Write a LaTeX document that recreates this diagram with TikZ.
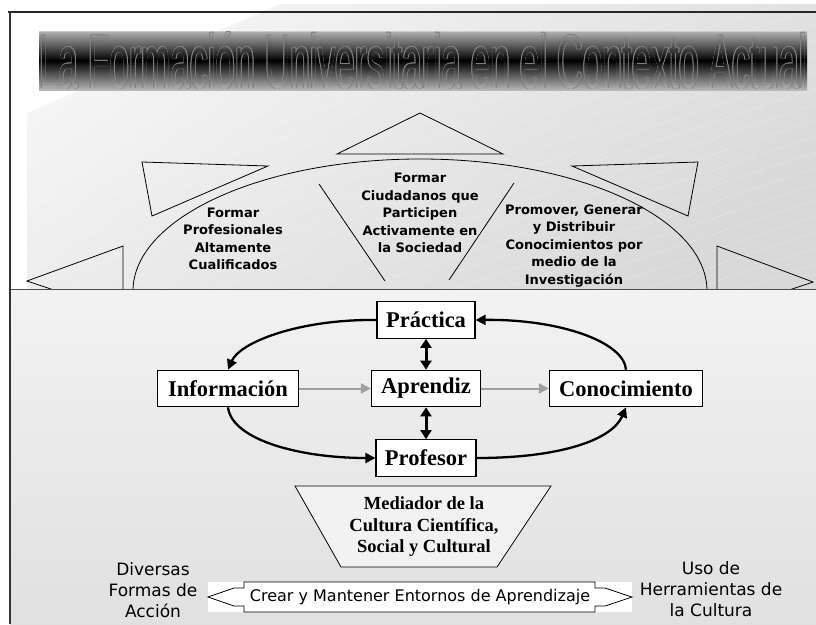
\documentclass[tikz,border=0pt]{standalone}
\usepackage{graphicx}
\usepackage{fontspec}
\setmainfont{Liberation Serif}
\newfontfamily\labfont{DejaVu Sans}
\newfontfamily\titlefont{Liberation Sans}
\usetikzlibrary{arrows.meta}
\newcommand\titletxt[1]{\resizebox{768pt}{56pt}{\titlefont\fontsize{78}{78}\selectfont\color{#1}La Formación Universitaria en el Contexto Actual}}
\definecolor{bandtop}{gray}{0.70}
\definecolor{bandbot}{gray}{0.72}
\definecolor{outlc}{gray}{0.50}
\begin{document}
\begin{tikzpicture}[x=1pt,y=-1pt,
  lab/.style={font=\labfont\bfseries\fontsize{13}{17.5}\selectfont, align=center, inner sep=0pt},
  low/.style={font=\labfont\fontsize{17}{21}\selectfont, align=center, inner sep=0pt},
  box/.style={draw=black, line width=1.2pt, fill=white, font=\bfseries\fontsize{22.5}{22.5}\selectfont, minimum height=36.5pt, inner xsep=0pt, inner ysep=0pt},
  blk/.style={line width=2.3pt, -{Triangle[length=10pt,width=10pt]}},
  gry/.style={line width=2pt, draw=gray!75, -{Triangle[length=10pt,width=10pt]}},
  dbl/.style={line width=3pt, {Triangle[length=9pt,width=11pt]}-{Triangle[length=9pt,width=11pt]}},
  tri/.style={line width=0.8pt},
  ttl/.style={anchor=base west, inner sep=0pt}
]
\useasboundingbox (0,0) rectangle (816,624);
\fill[white] (0,0) rectangle (816,624);
% upper gray region
\shade[top color=gray!8, bottom color=gray!30, shading angle=35]
  (281,4) -- (816,4) -- (816,290) -- (27,290) -- (27,113) -- cycle;
\begin{scope}
  \clip (281,4) -- (816,4) -- (816,290) -- (27,290) -- (27,113) -- cycle;
  \foreach \k in {0,...,40} {
    \draw[white, opacity=0.45, line width=0.4pt, dash pattern=on 6pt off 3pt] (0,{40+16*\k}) -- (900,{40+16*\k-300});
  }
\end{scope}
% title band
\shade[top color=bandtop, bottom color=bandbot, middle color=black] (39,31) rectangle (807,90);
\draw[gray!40, line width=1.5pt] (39,31.5) -- (807,31.5);
\foreach \dx/\dy [count=\c] in {0.7/0, -0.7/0, 0/0.7, 0/-0.7, 0.5/0.5, -0.5/0.5, 0.5/-0.5, -0.5/-0.5} {
  \node[ttl] (tc\c) at (39+\dx,88+\dy) {\titletxt{outlc}};
}
\foreach \i in {0,...,39} {
  \pgfmathsetmacro\ya{31+1.5*\i}
  \pgfmathsetmacro\yb{\ya+1.5}
  \pgfmathsetmacro\lev{max(0.70*(60.5-\ya-0.75)/29.5, 0.72*(\ya+0.75-60.5)/29.5)}
  \definecolor{stripc}{gray}{\lev}
  \begin{scope}
    \clip (30,\ya) rectangle (816,\yb);
    \node[ttl] (ts\i) at (39,88) {\titletxt{stripc}};
  \end{scope}
}
% ellipse and triangles
\draw[tri] (420,291) ellipse [x radius=287, y radius=132];
\draw[tri] (337,154) -- (420,113) -- (503,154) -- cycle;
\draw[tri] (142,162) -- (268,166) -- (152,216) -- cycle;
\draw[tri] (572,166) -- (698,162) -- (688,216) -- cycle;
\draw[tri] (123,246) -- (27,281) -- (123,313) -- cycle;
\draw[tri] (717,246) -- (813,282) -- (717,314) -- cycle;
\draw[tri] (319,184) -- (385,281);
\draw[tri] (514,183) -- (449,280);
\node[lab] (t1) at (233,239) {Formar\\Profesionales\\Altamente\\Cualificados};
\node[lab] (t2) at (420,213) {Formar\\Ciudadanos que\\Participen\\Activamente en\\la Sociedad};
\node[lab] (t3) at (574,246) {Promover, Generar\\y Distribuir\\Conocimientos por\\medio de la\\Investigación};
% lower panel
\shade[top color=gray!10, bottom color=gray!24] (10,289) rectangle (816,624);
\draw[gray!60!black, line width=1pt] (10,289) -- (816,289);
% frame
\draw[black!85, line width=2pt] (8,12) -- (816,12);
\draw[black!80, line width=2.5pt] (10,12) -- (10,624);
% boxes
\node[box, minimum width=98pt] (prac) at (426,320) {Práctica};
\node[box, minimum width=109pt] (apr) at (426,388.5) {Aprendiz};
\node[box, minimum width=141pt] (info) at (228,388.5) {Información};
\node[box, minimum width=153pt] (conoc) at (626,388.5) {Conocimiento};
\node[box, minimum width=100pt] (prof) at (426,458) {Profesor};
\draw[gry] (info.east) -- (apr.west);
\draw[gry] (apr.east) -- (conoc.west);
\draw[dbl] (prac.south) -- (apr.north);
\draw[dbl] (apr.south) -- (prof.north);
\draw[blk] (prac.west) .. controls (300,319) and (240,342) .. (info.north);
\draw[blk] (conoc.north) .. controls (624,342) and (560,319) .. (prac.east);
\draw[blk] (info.south) .. controls (232,440) and (300,458) .. (prof.west);
\draw[blk] (prof.east) .. controls (560,458) and (612,440) .. (conoc.south);
% trapezoid
\draw[fill=gray!10, line width=0.8pt] (295,486) -- (551,486) -- (497,567) -- (341,567) -- cycle;
\node[font=\bfseries\fontsize{18.5}{21.5}\selectfont, align=center, inner sep=0pt] (med) at (424,527)
  {Mediador de la\\Cultura Científica,\\Social y Cultural};
% bottom
\node[low] (div) at (153,590) {Diversas\\Formas de\\Acción};
\node[low] (uso) at (711,589) {Uso de\\Herramientas de\\la Cultura};
\fill[white] (208,582) rectangle (632,612);
\draw[line width=0.8pt, fill=white] (208,597) -- (234,588) -- (244,588) -- (244,582) -- (595,582) -- (595,588)
  -- (605,588) -- (632,597) -- (605,606) -- (595,606) -- (595,612) -- (244,612) -- (244,606) -- (234,606) -- cycle;
\node[font=\labfont\fontsize{16}{16}\selectfont, inner sep=0pt] (crear) at (420,597) {Crear y Mantener Entornos de Aprendizaje};
\end{tikzpicture}
\end{document}
